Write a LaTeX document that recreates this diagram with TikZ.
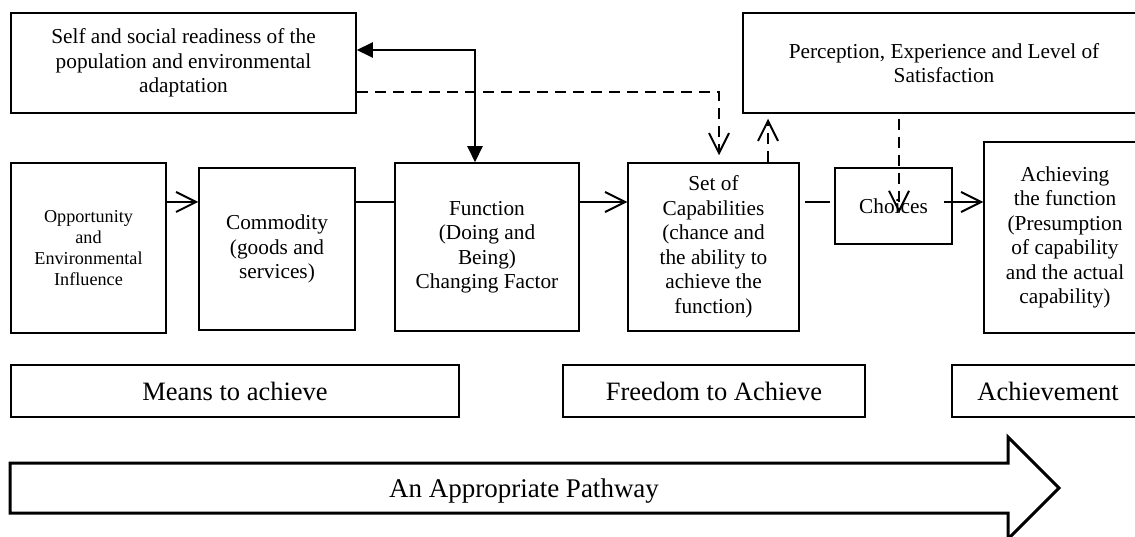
\documentclass[tikz,border=0pt]{standalone}
\usepackage{fontspec}
\setmainfont{Liberation Serif}
\usetikzlibrary{arrows.meta}
\begin{document}
\begin{tikzpicture}[x=1pt,y=-1pt,
  box/.style={draw, line width=1.5pt, rectangle, align=center, inner sep=0pt,
    font=\fontsize{21.3}{24.5}\selectfont},
  smalltext/.style={font=\fontsize{18.2}{21}\selectfont},
  stage/.style={box, minimum height=52pt, font=\fontsize{26.5}{30}\selectfont},
  conn/.style={line width=2pt},
  vhead/.style={-{Straight Barb[length=20pt,width=20pt]}},
  dashline/.style={conn, dash pattern=on 11pt off 7pt},
  tri/.style={{Triangle[length=16pt,width=15pt]}-{Triangle[length=16pt,width=15pt]}},
]
\useasboundingbox (0,0) rectangle (1135,537);
\clip (0,0) rectangle (1135,537);
\fill[white] (0,0) rectangle (1135,537);

% upper boxes
\node[box, minimum width=345pt, minimum height=100pt] (self) at (183.5,63)
  {Self and social readiness of the\\population and environmental\\adaptation};
\node[box, minimum width=402pt, minimum height=100pt] (percep) at (944,63)
  {Perception, Experience and Level of\\Satisfaction};

% main row
\node[box, smalltext, minimum width=155pt, minimum height=170pt] (opp) at (88.5,248)
  {Opportunity\\and\\Environmental\\Influence};
\node[box, minimum width=156pt, minimum height=162pt] (comm) at (277,249)
  {Commodity\\(goods and\\services)};
\node[box, minimum width=184pt, minimum height=168pt] (func) at (487,247)
  {Function\\(Doing and\\Being)\\Changing Factor};
\node[box, minimum width=171pt, minimum height=168pt] (set) at (713.5,247)
  {Set of\\Capabilities\\(chance and\\the ability to\\achieve the\\function)};
\node[box, minimum width=117pt, minimum height=76pt] (choices) at (893.5,206)
  {Choices};
\node[box, minimum width=162pt, minimum height=191pt] (achv) at (1065,237.5)
  {Achieving\\the function\\(Presumption\\of capability\\and the actual\\capability)};

% stage labels
\node[stage, minimum width=448pt] (means) at (235,391) {Means to achieve};
\node[stage, minimum width=302pt] (freedom) at (714,391) {Freedom to Achieve};
\node[stage, minimum width=192pt] (achievement) at (1048,391) {Achievement};

% pathway arrow
\draw[line width=3pt, line join=miter] (10,463) -- (1008,463) -- (1008,437)
  -- (1059,488) -- (1008,539) -- (1008,513) -- (10,513) -- cycle;
\node[font=\fontsize{27}{30}\selectfont] (pathway) at (524,491) {An Appropriate Pathway};

% connectors along the main row
\coordinate (row) at (0,202);
\draw[conn, vhead] (opp.east |- row) -- (comm.west |- row);
\draw[conn] (comm.east |- row) -- (func.west |- row);
\draw[conn, vhead] (func.east |- row) -- (set.west |- row);
\draw[conn, shorten <=5pt, shorten >=4pt] (set.east |- row) -- (choices.west |- row);
\draw[conn, vhead, shorten <=-9pt] (choices.east |- row) -- (achv.west |- row);

% two-way link between readiness and function
\coordinate (loop) at (475,50);
\draw[conn, tri] (self.east |- loop) -- (loop) -- (loop |- func.north);

% dashed feedback links
\coordinate (dv) at (719,92);
\draw[dashline, vhead, shorten >=7pt] (self.east |- dv) -- (dv) -- (dv |- set.north);
\coordinate (up) at (768,0);
\draw[dashline, vhead, shorten >=5pt] (up |- set.north) -- (up |- percep.south);
\coordinate (down) at (899,0);
\draw[dashline, vhead, shorten <=5pt, shorten >=-7pt] (down |- percep.south) -- (down |- choices.center);
\end{tikzpicture}
\end{document}
